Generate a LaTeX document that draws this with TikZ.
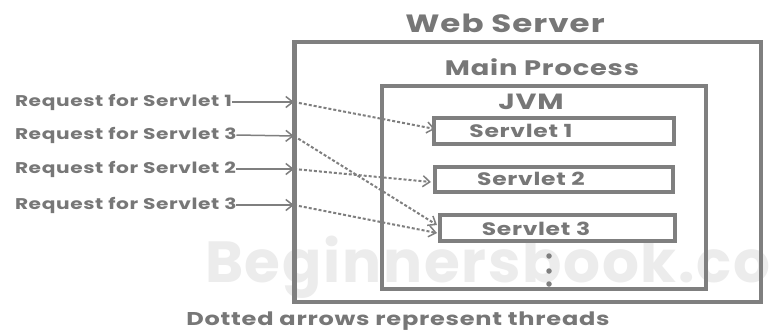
\documentclass[tikz,border=0pt]{standalone}
\usepackage{fontspec}
\setmainfont{Poppins}
\newfontfamily\widefont[FakeStretch=1.3,LetterSpace=4]{Poppins}
\newfontfamily\markfont[LetterSpace=3]{Poppins}
\usetikzlibrary{arrows.meta}
\definecolor{linegray}{HTML}{7F7F7F}
\definecolor{textgray}{HTML}{777777}
\definecolor{markgray}{HTML}{ECECEC}
\begin{document}
\begin{tikzpicture}[x=1pt,y=-1pt,
  every node/.style={inner sep=0pt, outer sep=0pt, text=textgray},
  frame/.style={draw=linegray, line width=#1},
  lbl/.style={font=\widefont\bfseries\fontsize{#1}{#1}\selectfont},
  reqlbl/.style={anchor=west, font=\widefont\bfseries\fontsize{15.5}{15.5}\selectfont},
  reqarrow/.style={draw=linegray, line width=1.5pt,
                   -{Straight Barb[length=7pt,width=11pt,line width=1.5pt]}},
  thread/.style={draw=linegray, line width=2pt, dash pattern=on 3pt off 2pt,
                 -{Straight Barb[length=7pt,width=11pt,line width=1.5pt]}},
  dot/.style={circle, fill=linegray, minimum size=5.5pt}
]
\useasboundingbox (0,0) rectangle (773,330);
\fill[white] (0,0) rectangle (773,330);

% watermark, running off the right edge
\begin{scope}
  \clip (0,0) rectangle (773,330);
  \node[anchor=base west, text=markgray, font=\markfont\bfseries\fontsize{58}{58}\selectfont]
    (mark) at (205,282) {Beginnersbook.com};
\end{scope}

% nested containers
\node[frame=4.5pt, minimum width=466.5pt, minimum height=260pt] (web) at (527.75,172) {};
\node[frame=4pt, minimum width=324pt, minimum height=203pt] (main) at (543.5,187.5) {};

\node[lbl=25] (webt) at (505,23) {Web Server};
\node[lbl=21] (maint) at (542,67) {Main Process};
\node[lbl=22] (jvmt) at (531,102) {JVM};

% servlets
\node[frame=4pt, minimum width=240pt, minimum height=26pt] (s1) at (553.5,131) {};
\node[frame=4pt, minimum width=238.5pt, minimum height=25.5pt] (s2) at (553.75,179.25) {};
\node[frame=4pt, minimum width=235pt, minimum height=26.5pt] (s3) at (557.5,227.75) {};
\node[lbl=18] (s1t) at (521,131) {Servlet 1};
\node[lbl=18] (s2t) at (531,179) {Servlet 2};
\node[lbl=18] (s3t) at (536,229) {Servlet 3};

\node[dot] (d1) at (549,256) {};
\node[dot] (d2) at (549,271) {};
\node[dot] (d3) at (549,284) {};

% incoming requests
\node[reqlbl] (r1) at (15,102) {Request for Servlet 1};
\node[reqlbl] (r2) at (15,135) {Request for Servlet 3};
\node[reqlbl] (r3) at (15,169) {Request for Servlet 2};
\node[reqlbl] (r4) at (15,205) {Request for Servlet 3};

\coordinate (e1) at (294,102);
\coordinate (e2) at (294,136);
\coordinate (e3) at (294,169);
\coordinate (e4) at (294,205);

\draw[reqarrow] (r1.east) -- (e1);
\draw[reqarrow] (r2.east) -- (e2);
\draw[reqarrow] (r3.east) -- (e3);
\draw[reqarrow] (r4.east) -- (e4);

% threads
\coordinate (t1) at (435,129);
\coordinate (t2) at (431,182);
\coordinate (t3a) at (437,225);
\coordinate (t3b) at (437,233);

\draw[thread] (e1) -- (t1);
\draw[thread] (e2) -- (t3a);
\draw[thread] (e3) -- (t2);
\draw[thread] (e4) -- (t3b);

\node[lbl=18.5, anchor=base] (cap) at (398,325) {Dotted arrows represent threads};
\end{tikzpicture}
\end{document}
